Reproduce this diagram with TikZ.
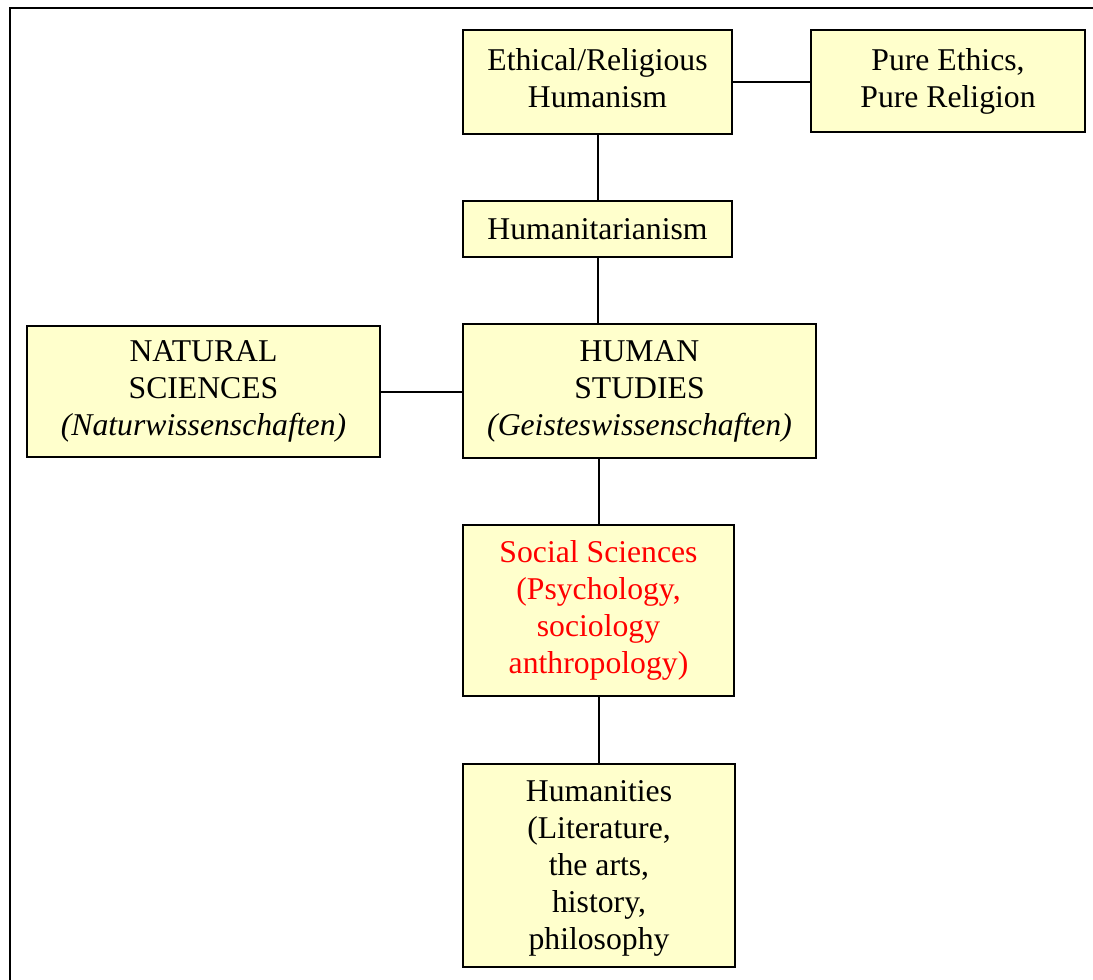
\documentclass[tikz,border=0pt]{standalone}
\usepackage{fontspec}
\setmainfont{Liberation Serif}
\definecolor{boxfill}{HTML}{FFFFCC}
\definecolor{redtext}{HTML}{FF0000}
\newcommand{\lowpad}{\rule[-7pt]{0pt}{7pt}}
\newcommand{\toppad}{\rule{0pt}{27.3pt}}
\tikzset{
  box/.style={draw=black, line width=1.8pt, fill=boxfill, rectangle, inner sep=0pt, align=center,
    font=\fontsize{31.7}{37}\selectfont},
  link/.style={draw=black, line width=2pt},
}
\begin{document}
\begin{tikzpicture}[x=1pt,y=-1pt]
\useasboundingbox (0,0) rectangle (1093,980);
\begin{scope}
\clip (0,0) rectangle (1093,980);
\fill[white] (0,0) rectangle (1093,980);
\draw[line width=2.4pt] (10,8) rectangle (1110,1000);
\end{scope}
\node[box, minimum width=269, minimum height=104] (eth) at (597.5,82) {Ethical/Religious\\Humanism\lowpad};
\node[box, minimum width=274, minimum height=102] (pure) at (948,81) {Pure Ethics,\\Pure Religion};
\node[box, minimum width=269, minimum height=56] (hum) at (597.5,229) {Humanitarianism};
\node[box, minimum width=353, minimum height=131] (nat) at (203.5,391.5) {NATURAL\\SCIENCES\\\textit{(Naturwissenschaften)}};
\node[box, minimum width=353, minimum height=134] (hs) at (639.5,391) {HUMAN\\STUDIES\\\textit{(Geisteswissenschaften)}};
\node[box, minimum width=271, minimum height=171, text=redtext] (soc) at (598.5,610.5) {Social Sciences\\(Psychology,\\sociology\\anthropology)};
\node[box, minimum width=272, minimum height=203] (hums) at (599,865.5) {\toppad Humanities\\(Literature,\\the arts,\\history,\\philosophy};
\draw[link] (eth.east) -- (eth.east -| pure.west);
\draw[link] (eth.south) -- (hum.north);
\draw[link] (hum.south) -- (hum.south |- hs.north);
\draw[link] (nat.east) -- (nat.east -| hs.west);
\draw[link] (soc.north |- hs.south) -- (soc.north);
\draw[link] (soc.south) -- (soc.south |- hums.north);
\end{tikzpicture}
\end{document}
